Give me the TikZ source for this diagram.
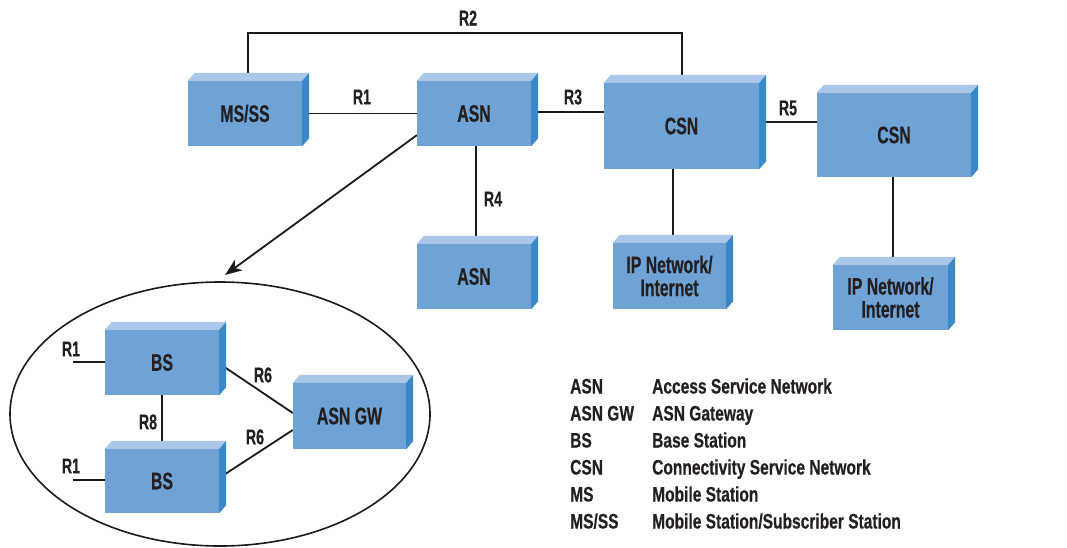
\documentclass[tikz,border=0pt]{standalone}
\usepackage{fontspec}
\newfontfamily\boxfont[FakeStretch=0.66,FakeBold=0.4]{Liberation Sans}
\newfontfamily\legfont[FakeStretch=0.74,FakeBold=0.4]{Liberation Sans}
\usetikzlibrary{calc,arrows.meta,shapes.geometric}
\pgfdeclarelayer{bg}\pgfdeclarelayer{paper}\pgfsetlayers{paper,bg,main}
\definecolor{cfront}{HTML}{6FA3D6}
\definecolor{ctop}{HTML}{AAC7E9}
\definecolor{cside}{HTML}{3B88C8}
\definecolor{cline}{HTML}{1A1A1A}
\definecolor{ctext}{HTML}{231F20}
\tikzset{
  cubebox/.style={fill=cfront, inner sep=0pt, text=ctext, font=\boxfont\bfseries\fontsize{24}{23}\selectfont, align=center},
  cubetop/.style={fill=ctop},
  cubeside/.style={fill=cside},
  link/.style={draw=cline, line width=1.8pt},
  rlab/.style={text=ctext, font=\boxfont\bfseries\fontsize{21.5}{21}\selectfont, inner sep=0pt},
  legtxt/.style={text=ctext, font=\legfont\bfseries\fontsize{21}{21}\selectfont, inner sep=0pt, anchor=base west},
}
\newcommand{\cubenode}[6]{%
  \node[cubebox, minimum width=#4pt, minimum height=#5pt] (#1) at (#2,#3) {#6};
  \fill[cubetop] (#1.north west) -- ++(7,-8) -- ($(#1.north east)+(7,-8)$) -- (#1.north east) -- cycle;
  \fill[cubeside] (#1.north east) -- ++(7,-8) -- ($(#1.south east)+(7,-8)$) -- (#1.south east) -- cycle;
}
\begin{document}
\begin{tikzpicture}[x=1pt,y=-1pt]
\useasboundingbox (0,0) rectangle (1067,547);
\begin{pgfonlayer}{paper}
  \fill[white] (0,0) rectangle (1067,547);
\end{pgfonlayer}

% boxes
\cubenode{ms}{245}{113.5}{114}{65}{MS/SS}
\cubenode{asna}{474}{113.5}{114}{65}{ASN}
\cubenode{csna}{681.5}{126}{155}{86}{CSN}
\cubenode{csnb}{894}{135}{154}{84}{CSN}
\cubenode{asnb}{474}{276.5}{114}{65}{ASN}
\cubenode{ipa}{669.5}{276}{113}{66}{IP Network/\\Internet}
\cubenode{ipb}{890.5}{297.5}{115}{65}{IP Network/\\Internet}

% ellipse with detail
\node[draw=cline, line width=1.6pt, ellipse, minimum width=420pt, minimum height=264pt, inner sep=0pt] (ell) at (220,414) {};
\cubenode{bsa}{162}{362.5}{114}{65}{BS}
\cubenode{bsb}{162}{481}{114}{64}{BS}
\cubenode{gw}{349.5}{416}{113}{66}{ASN GW}

% connectors
\begin{pgfonlayer}{bg}
  \coordinate (r2y) at (0,33);
  \coordinate (msT) at ($(ms.north)+(3,-8)$);
  \coordinate (csT) at ($(csna.north)+(0.5,-8)$);
  \draw[link] (msT) -- (msT |- r2y) -- (csT |- r2y) -- (csT);
  \draw[link] (ms.east) -- (asna.west);
  \coordinate (r3a) at ($(asna.east)+(0,-1.5)$);
  \draw[link] (r3a) -- (r3a -| csna.west);
  \coordinate (r5a) at ($(csnb.west)+(0,-13)$);
  \draw[link] (r5a) -- (r5a -| csna.east);
  \coordinate (asnbT) at ($(asnb.north)+(2,-8)$);
  \draw[link] (asnbT) -- (asnbT |- asna.south);
  \coordinate (ipaT) at ($(ipa.north)+(3.5,-6)$);
  \draw[link] (ipaT) -- (ipaT |- csna.south);
  \coordinate (ipbT) at ($(ipb.north)+(2.5,-8)$);
  \draw[link] (ipbT) -- (ipbT |- csnb.south);
  % inside ellipse
  \coordinate (r1a) at (73,362);
  \coordinate (r1b) at (73,480);
  \draw[link] (r1a) -- (r1a -| bsa.west);
  \draw[link] (r1b) -- (r1b -| bsb.west);
  \draw[link] (bsa.south) -- (bsb.north);
  \draw[link] ($(bsa.east)+(6,5)$) -- ($(gw.west)+(0,-3)$);
  \draw[link] ($(bsb.east)+(6,-7)$) -- ($(gw.west)+(0,14)$);
\end{pgfonlayer}

% arrow to ellipse
\coordinate (tip) at (225,275);
\draw[link, -{Stealth[length=17pt,width=13pt,inset=5pt]}] ($(asna.south west)+(0,-11)$) -- (tip);

% interface labels
\node[rlab] (lr2) at (468,18) {R2};
\node[rlab] (lr1) at (362,97) {R1};
\node[rlab] (lr3) at (573,97) {R3};
\node[rlab] (lr4) at (493,199) {R4};
\node[rlab] (lr5) at (788,108) {R5};
\node[rlab] (lr1a) at (71,349) {R1};
\node[rlab] (lr1b) at (71,466) {R1};
\node[rlab] (lr8) at (148,422) {R8};
\node[rlab] (lr6a) at (263,375) {R6};
\node[rlab] (lr6b) at (255,437) {R6};

% legend
\node[legtxt] (la1) at (570,393.5) {ASN};
\node[legtxt] (lb1) at (652,393.5) {Access Service Network};
\node[legtxt] (la2) at (570,420.5) {ASN GW};
\node[legtxt] (lb2) at (652,420.5) {ASN Gateway};
\node[legtxt] (la3) at (570,447.5) {BS};
\node[legtxt] (lb3) at (652,447.5) {Base Station};
\node[legtxt] (la4) at (570,474.5) {CSN};
\node[legtxt] (lb4) at (652,474.5) {Connectivity Service Network};
\node[legtxt] (la5) at (570,501.5) {MS};
\node[legtxt] (lb5) at (652,501.5) {Mobile Station};
\node[legtxt] (la6) at (570,528.5) {MS/SS};
\node[legtxt] (lb6) at (652,528.5) {Mobile Station/Subscriber Station};
\end{tikzpicture}
\end{document}
